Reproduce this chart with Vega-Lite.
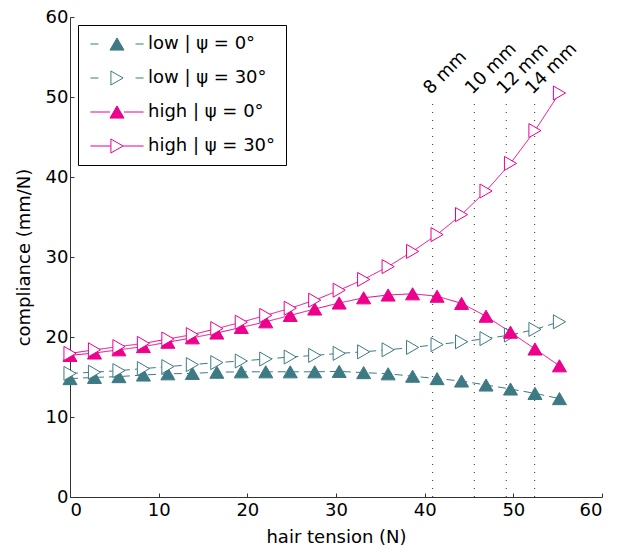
{
  "$schema": "https://vega.github.io/schema/vega-lite/v6.json",
  "width": 532,
  "height": 480,
  "autosize": {"type": "none"},
  "padding": {"left": 70, "top": 17, "right": 22, "bottom": 52},
  "background": "white",
  "config": {
    "view": {"stroke": null},
    "font": "DejaVu Sans",
    "axis": {
      "grid": false,
      "domainColor": "#333333",
      "tickColor": "#333333",
      "tickSize": -4,
      "labelFont": "DejaVu Sans",
      "labelFontSize": 18,
      "labelColor": "black",
      "titleFont": "DejaVu Sans",
      "titleFontSize": 18,
      "titleFontWeight": "normal",
      "titleColor": "black"
    }
  },
  "datasets": {
    "curves": [
      {"t": 0, "c": 14.8, "series": "low | ψ = 0°"},
      {"t": 2.76, "c": 14.95, "series": "low | ψ = 0°"},
      {"t": 5.52, "c": 15.05, "series": "low | ψ = 0°"},
      {"t": 8.28, "c": 15.25, "series": "low | ψ = 0°"},
      {"t": 11.04, "c": 15.4, "series": "low | ψ = 0°"},
      {"t": 13.8, "c": 15.45, "series": "low | ψ = 0°"},
      {"t": 16.56, "c": 15.6, "series": "low | ψ = 0°"},
      {"t": 19.32, "c": 15.65, "series": "low | ψ = 0°"},
      {"t": 22.08, "c": 15.65, "series": "low | ψ = 0°"},
      {"t": 24.84, "c": 15.65, "series": "low | ψ = 0°"},
      {"t": 27.6, "c": 15.65, "series": "low | ψ = 0°"},
      {"t": 30.36, "c": 15.7, "series": "low | ψ = 0°"},
      {"t": 33.12, "c": 15.55, "series": "low | ψ = 0°"},
      {"t": 35.88, "c": 15.4, "series": "low | ψ = 0°"},
      {"t": 38.64, "c": 15.1, "series": "low | ψ = 0°"},
      {"t": 41.4, "c": 14.8, "series": "low | ψ = 0°"},
      {"t": 44.16, "c": 14.5, "series": "low | ψ = 0°"},
      {"t": 46.92, "c": 14.0, "series": "low | ψ = 0°"},
      {"t": 49.68, "c": 13.5, "series": "low | ψ = 0°"},
      {"t": 52.44, "c": 12.95, "series": "low | ψ = 0°"},
      {"t": 55.2, "c": 12.3, "series": "low | ψ = 0°"},
      {"t": 0, "c": 15.45, "series": "low | ψ = 30°"},
      {"t": 2.76, "c": 15.6, "series": "low | ψ = 30°"},
      {"t": 5.52, "c": 15.8, "series": "low | ψ = 30°"},
      {"t": 8.28, "c": 16.05, "series": "low | ψ = 30°"},
      {"t": 11.04, "c": 16.3, "series": "low | ψ = 30°"},
      {"t": 13.8, "c": 16.55, "series": "low | ψ = 30°"},
      {"t": 16.56, "c": 16.8, "series": "low | ψ = 30°"},
      {"t": 19.32, "c": 17.0, "series": "low | ψ = 30°"},
      {"t": 22.08, "c": 17.25, "series": "low | ψ = 30°"},
      {"t": 24.84, "c": 17.5, "series": "low | ψ = 30°"},
      {"t": 27.6, "c": 17.7, "series": "low | ψ = 30°"},
      {"t": 30.36, "c": 17.95, "series": "low | ψ = 30°"},
      {"t": 33.12, "c": 18.15, "series": "low | ψ = 30°"},
      {"t": 35.88, "c": 18.4, "series": "low | ψ = 30°"},
      {"t": 38.64, "c": 18.7, "series": "low | ψ = 30°"},
      {"t": 41.4, "c": 19.05, "series": "low | ψ = 30°"},
      {"t": 44.16, "c": 19.4, "series": "low | ψ = 30°"},
      {"t": 46.92, "c": 19.8, "series": "low | ψ = 30°"},
      {"t": 49.68, "c": 20.25, "series": "low | ψ = 30°"},
      {"t": 52.44, "c": 20.95, "series": "low | ψ = 30°"},
      {"t": 55.2, "c": 21.9, "series": "low | ψ = 30°"},
      {"t": 0, "c": 17.7, "series": "high | ψ = 0°"},
      {"t": 2.76, "c": 18.0, "series": "high | ψ = 0°"},
      {"t": 5.52, "c": 18.4, "series": "high | ψ = 0°"},
      {"t": 8.28, "c": 18.8, "series": "high | ψ = 0°"},
      {"t": 11.04, "c": 19.35, "series": "high | ψ = 0°"},
      {"t": 13.8, "c": 19.9, "series": "high | ψ = 0°"},
      {"t": 16.56, "c": 20.5, "series": "high | ψ = 0°"},
      {"t": 19.32, "c": 21.2, "series": "high | ψ = 0°"},
      {"t": 22.08, "c": 21.9, "series": "high | ψ = 0°"},
      {"t": 24.84, "c": 22.7, "series": "high | ψ = 0°"},
      {"t": 27.6, "c": 23.5, "series": "high | ψ = 0°"},
      {"t": 30.36, "c": 24.25, "series": "high | ψ = 0°"},
      {"t": 33.12, "c": 24.9, "series": "high | ψ = 0°"},
      {"t": 35.88, "c": 25.25, "series": "high | ψ = 0°"},
      {"t": 38.64, "c": 25.4, "series": "high | ψ = 0°"},
      {"t": 41.4, "c": 25.1, "series": "high | ψ = 0°"},
      {"t": 44.16, "c": 24.2, "series": "high | ψ = 0°"},
      {"t": 46.92, "c": 22.6, "series": "high | ψ = 0°"},
      {"t": 49.68, "c": 20.6, "series": "high | ψ = 0°"},
      {"t": 52.44, "c": 18.5, "series": "high | ψ = 0°"},
      {"t": 55.2, "c": 16.4, "series": "high | ψ = 0°"},
      {"t": 0, "c": 17.95, "series": "high | ψ = 30°"},
      {"t": 2.76, "c": 18.4, "series": "high | ψ = 30°"},
      {"t": 5.52, "c": 18.8, "series": "high | ψ = 30°"},
      {"t": 8.28, "c": 19.2, "series": "high | ψ = 30°"},
      {"t": 11.04, "c": 19.75, "series": "high | ψ = 30°"},
      {"t": 13.8, "c": 20.3, "series": "high | ψ = 30°"},
      {"t": 16.56, "c": 21.05, "series": "high | ψ = 30°"},
      {"t": 19.32, "c": 21.85, "series": "high | ψ = 30°"},
      {"t": 22.08, "c": 22.7, "series": "high | ψ = 30°"},
      {"t": 24.84, "c": 23.6, "series": "high | ψ = 30°"},
      {"t": 27.6, "c": 24.6, "series": "high | ψ = 30°"},
      {"t": 30.36, "c": 25.85, "series": "high | ψ = 30°"},
      {"t": 33.12, "c": 27.2, "series": "high | ψ = 30°"},
      {"t": 35.88, "c": 28.8, "series": "high | ψ = 30°"},
      {"t": 38.64, "c": 30.7, "series": "high | ψ = 30°"},
      {"t": 41.4, "c": 32.8, "series": "high | ψ = 30°"},
      {"t": 44.16, "c": 35.3, "series": "high | ψ = 30°"},
      {"t": 46.92, "c": 38.25, "series": "high | ψ = 30°"},
      {"t": 49.68, "c": 41.7, "series": "high | ψ = 30°"},
      {"t": 52.44, "c": 45.8, "series": "high | ψ = 30°"},
      {"t": 55.2, "c": 50.5, "series": "high | ψ = 30°"}
    ],
    "markers": [
      {"pos": 40.9, "label": "8 mm"},
      {"pos": 45.6, "label": "10 mm"},
      {"pos": 49.2, "label": "12 mm"},
      {"pos": 52.4, "label": "14 mm"}
    ]
  },
  "layer": [
    {
      "data": {"name": "markers"},
      "mark": {"type": "rule", "color": "#333333", "strokeWidth": 1, "strokeDash": [1, 7]},
      "encoding": {
        "x": {"field": "pos", "type": "quantitative", "scale": {"domain": [0, 60], "nice": false}, "axis": {"title": "hair tension (N)", "values": [0, 10, 20, 30, 40, 50, 60], "labelPadding": 8, "titlePadding": 9}},
        "y": {"datum": 0, "type": "quantitative", "scale": {"domain": [0, 60], "nice": false}, "axis": {"title": "compliance (mm/N)", "values": [0, 10, 20, 30, 40, 50, 60], "labelPadding": 6, "titlePadding": 12}},
        "y2": {"datum": 50}
      }
    },
    {
      "data": {"name": "markers"},
      "mark": {"type": "text", "angle": -45, "align": "left", "baseline": "middle", "fontSize": 18, "font": "DejaVu Sans", "color": "black", "dx": 0, "dy": -8},
      "encoding": {
        "x": {"field": "pos", "type": "quantitative"},
        "y": {"datum": 50, "type": "quantitative"},
        "text": {"field": "label"}
      }
    },
    {
      "data": {"name": "curves"},
      "mark": {"type": "line", "strokeWidth": 1},
      "encoding": {
        "x": {"field": "t", "type": "quantitative"},
        "y": {"field": "c", "type": "quantitative"},
        "detail": {"field": "series"},
        "stroke": {
          "field": "series", "type": "nominal",
          "scale": {"domain": ["low | ψ = 0°", "low | ψ = 30°", "high | ψ = 0°", "high | ψ = 30°"], "range": ["#3d7a84", "#3d7a84", "#ec008c", "#ec008c"]},
          "legend": {
            "title": null,
            "orient": "top-left",
            "offset": 8,
            "padding": 10,
            "strokeColor": "black",
            "fillColor": "white",
            "labelFont": "DejaVu Sans",
            "labelFontSize": 18,
            "labelColor": "black",
            "labelLimit": 400,
            "symbolSize": 196,
            "symbolOffset": 20,
            "labelOffset": 22,
            "rowPadding": 16,
            "symbolOpacity": 1,
            "symbolStrokeWidth": 1,
            "encode": {
              "symbols": {
                "update": {
                  "shape": {"signal": "datum.index == 0 ? 'M-3.8,0L-2.65,0M2.65,0L3.8,0M0,-0.87L1,0.87L-1,0.87Z' : datum.index == 1 ? 'M-3.8,0L-2.65,0M2.65,0L3.8,0M-0.87,-1L0.87,0L-0.87,1Z' : datum.index == 2 ? 'M-3.8,0L-1,0M1,0L3.8,0M0,-0.87L1,0.87L-1,0.87Z' : 'M-3.8,0L-0.87,0M0.87,0L3.8,0M-0.87,-1L0.87,0L-0.87,1Z'"},
                  "fill": {"signal": "datum.index == 0 ? '#3d7a84' : datum.index == 2 ? '#ec008c' : 'white'"},
                  "strokeDash": {"value": []},
                  "opacity": {"value": 1}
                }
              }
            }
          }
        },
        "strokeDash": {"field": "series", "type": "nominal", "scale": {"domain": ["high | ψ = 30°", "high | ψ = 0°", "low | ψ = 30°", "low | ψ = 0°"], "range": [[1, 0], [1, 0], [8, 5], [8, 5]]}, "legend": null}
      }
    },
    {
      "data": {"name": "curves"},
      "mark": {"type": "point", "size": 196, "strokeWidth": 1, "opacity": 1},
      "encoding": {
        "x": {"field": "t", "type": "quantitative"},
        "y": {"field": "c", "type": "quantitative"},
        "shape": {"field": "series", "type": "nominal", "scale": {"domain": ["high | ψ = 0°", "high | ψ = 30°", "low | ψ = 0°", "low | ψ = 30°"], "range": ["triangle-up", "triangle-right", "triangle-up", "triangle-right"]}, "legend": null},
        "fill": {"field": "series", "type": "nominal", "scale": {"domain": ["low | ψ = 30°", "low | ψ = 0°", "high | ψ = 30°", "high | ψ = 0°"], "range": ["white", "#3d7a84", "white", "#ec008c"]}, "legend": null},
        "stroke": {
          "field": "series", "type": "nominal",
          "legend": {
            "title": null,
            "orient": "top-left",
            "offset": 8,
            "padding": 10,
            "strokeColor": "black",
            "fillColor": "white",
            "labelFont": "DejaVu Sans",
            "labelFontSize": 18,
            "labelColor": "black",
            "labelLimit": 400,
            "symbolSize": 196,
            "symbolOffset": 20,
            "labelOffset": 22,
            "rowPadding": 16,
            "symbolOpacity": 1,
            "symbolStrokeWidth": 1,
            "encode": {
              "symbols": {
                "update": {
                  "shape": {"signal": "datum.index == 0 ? 'M-3.8,0L-2.65,0M2.65,0L3.8,0M0,-0.87L1,0.87L-1,0.87Z' : datum.index == 1 ? 'M-3.8,0L-2.65,0M2.65,0L3.8,0M-0.87,-1L0.87,0L-0.87,1Z' : datum.index == 2 ? 'M-3.8,0L-1,0M1,0L3.8,0M0,-0.87L1,0.87L-1,0.87Z' : 'M-3.8,0L-0.87,0M0.87,0L3.8,0M-0.87,-1L0.87,0L-0.87,1Z'"},
                  "fill": {"signal": "datum.index == 0 ? '#3d7a84' : datum.index == 2 ? '#ec008c' : 'white'"},
                  "strokeDash": {"value": []},
                  "opacity": {"value": 1}
                }
              }
            }
          }
        }
      }
    }
  ]
}
